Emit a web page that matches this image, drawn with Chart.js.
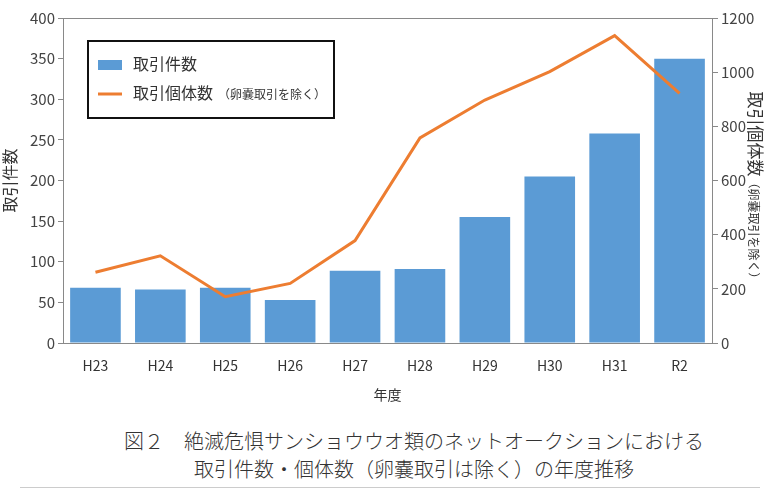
<!DOCTYPE html>
<html lang="ja">
<head>
<meta charset="UTF-8">
<title>取引件数・個体数の年度推移</title>
<script src="https://cdn.jsdelivr.net/npm/chart.js"></script>
<style>
  body { margin: 0; background: #fff; font-family: "Noto Sans CJK JP", sans-serif; }
  #wrap { position: relative; width: 780px; height: 490px; }
  #caption {
    position: absolute; left: 0; top: 427px; width: 780px;
    text-align: center; font-size: 20px; font-weight: 300; color: #333; line-height: 28px;
    padding-left: 48px; box-sizing: border-box;
  }
  #rule { position: absolute; left: 20px; top: 487px; width: 740px; height: 1px; background: #ccc; }
</style>
</head>
<body>
<div id="wrap">
  <canvas id="c" width="780" height="425"></canvas>
  <div id="caption">
    <div>図２　絶滅危惧サンショウウオ類のネットオークションにおける</div>
    <div>取引件数・個体数（卵嚢取引は除く）の年度推移</div>
  </div>
  <div id="rule"></div>
</div>
<script>
const years = ['H23', 'H24', 'H25', 'H26', 'H27', 'H28', 'H29', 'H30', 'H31', 'R2'];
const tradeCounts = [68, 66, 68, 53, 89, 91, 155, 205, 258, 350];
const individuals = [261, 322, 171, 220, 378, 757, 897, 1002, 1135, 922];

const BLUE = '#5b9bd5';
const ORANGE = '#ed7d31';
const AXIS = '#898989';
const FONT = '"Noto Sans CJK JP", sans-serif';

// frame, legend box and right-axis title
const decor = {
  id: 'decor',
  afterDraw(chart) {
    const ctx = chart.ctx;
    const a = chart.chartArea;
    ctx.save();
    ctx.strokeStyle = AXIS;
    ctx.lineWidth = 1;
    ctx.strokeRect(a.left + 0.5, a.top + 0.5, a.right - a.left, a.bottom - a.top);

    // legend
    ctx.fillStyle = '#fff';
    ctx.fillRect(88, 41, 246, 77);
    ctx.strokeStyle = '#111';
    ctx.lineWidth = 2;
    ctx.strokeRect(88, 41, 246, 77);
    ctx.fillStyle = BLUE;
    ctx.fillRect(98, 60, 24, 10);
    ctx.strokeStyle = ORANGE;
    ctx.lineWidth = 3;
    ctx.beginPath(); ctx.moveTo(98, 94); ctx.lineTo(122, 94); ctx.stroke();
    ctx.fillStyle = '#333';
    ctx.textBaseline = 'middle';
    ctx.font = '16px ' + FONT;
    ctx.fillText('取引件数', 133, 64);
    ctx.fillText('取引個体数', 133, 93);
    ctx.font = '12px ' + FONT;
    ctx.fillText('（卵嚢取引を除く）', 218, 94);

    // right axis title (vertical, reading downwards)
    ctx.translate(755, 188);
    ctx.rotate(Math.PI / 2);
    const t1 = '取引個体数';
    const t2 = '（卵嚢取引を除く）';
    ctx.font = '12px ' + FONT;
    const w2 = ctx.measureText(t2).width;
    ctx.font = '17px ' + FONT;
    const w1 = ctx.measureText(t1).width;
    const start = -(w1 + w2) / 2;
    ctx.textAlign = 'left';
    ctx.fillText(t1, start, 0);
    ctx.font = '12px ' + FONT;
    ctx.fillText(t2, start + w1, 1);
    ctx.restore();
  }
};

new Chart(document.getElementById('c'), {
  data: {
    labels: years,
    datasets: [
      {
        type: 'line',
        label: '取引個体数（卵嚢取引を除く）',
        data: individuals,
        yAxisID: 'y2',
        borderColor: ORANGE,
        borderWidth: 3,
        pointRadius: 0,
        tension: 0,
        order: 0
      },
      {
        type: 'bar',
        label: '取引件数',
        data: tradeCounts,
        yAxisID: 'y',
        backgroundColor: BLUE,
        barPercentage: 0.78,
        categoryPercentage: 1,
        order: 1
      }
    ]
  },
  plugins: [decor],
  options: {
    responsive: false,
    animation: false,
    layout: { padding: { top: 18, left: 0, right: 0, bottom: 22 } },
    plugins: { legend: { display: false }, tooltip: { enabled: false } },
    scales: {
      x: {
        grid: { display: false, drawTicks: false },
        border: { color: AXIS },
        ticks: { color: '#333', font: { size: 14, family: FONT }, padding: 14 },
        title: { display: true, text: '年度', color: '#333', font: { size: 14, family: FONT }, padding: 0 },
        afterFit(s) { s.height = 60; }
      },
      y: {
        position: 'left',
        min: 0, max: 400,
        ticks: { stepSize: 50, color: '#444', font: { size: 15, family: FONT }, padding: 3 },
        grid: { drawOnChartArea: false, tickLength: 5, color: AXIS },
        border: { color: AXIS },
        title: { display: true, text: '取引件数', color: '#333', font: { size: 16, family: FONT }, padding: 0 },
        afterFit(s) { s.width = 63; }
      },
      y2: {
        position: 'right',
        min: 0, max: 1200,
        ticks: { stepSize: 200, color: '#444', font: { size: 15, family: FONT }, padding: 3,
                 callback: v => String(v) },
        grid: { drawOnChartArea: false, tickLength: 6, color: AXIS },
        border: { color: AXIS },
        afterFit(s) { s.width = 68; }
      }
    }
  }
});
</script>
</body>
</html>
